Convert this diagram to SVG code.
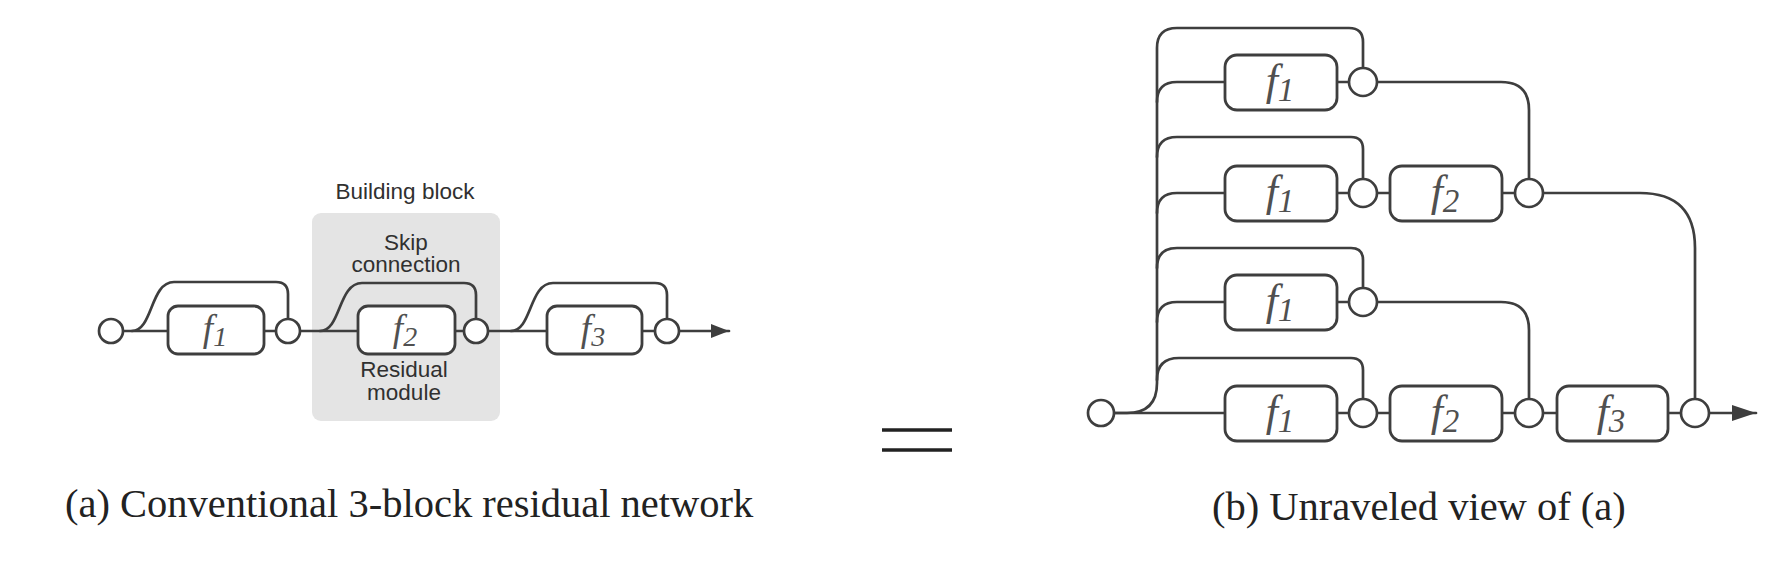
<svg xmlns="http://www.w3.org/2000/svg" width="1786" height="572" viewBox="0 0 1786 572">
<style>
.bg{fill:#ffffff}
.ln{fill:none;stroke:#3e3e3e;stroke-width:2.7;stroke-linecap:round;stroke-linejoin:round}
.box{fill:#ffffff;stroke:#3e3e3e;stroke-width:2.8}
.nd{fill:#ffffff;stroke:#3e3e3e;stroke-width:2.7}
.fa{font-family:"Liberation Serif","Times New Roman",serif;font-style:italic;fill:#505050;font-size:37px}
.fb{font-family:"Liberation Serif","Times New Roman",serif;font-style:italic;fill:#505050;font-size:44px}
.lab{font-family:"Liberation Sans",Arial,sans-serif;font-size:22.5px;fill:#303030;text-anchor:middle}
.cap{font-family:"Liberation Serif","Times New Roman",serif;font-size:40.5px;fill:#222222}
.blk{fill:#e4e4e4}
.eq{stroke:#222222;stroke-width:3.5}
</style>
<defs>
<marker id="arrA" viewBox="0 0 18 14" refX="18" refY="7" markerWidth="18" markerHeight="14" markerUnits="userSpaceOnUse" orient="auto"><path d="M0 0 L18 7 L0 14 z" fill="#3e3e3e"/></marker>
<marker id="arrB" viewBox="0 0 24 16" refX="24" refY="8" markerWidth="24" markerHeight="16" markerUnits="userSpaceOnUse" orient="auto"><path d="M0 0 L24 8 L0 16 z" fill="#3e3e3e"/></marker>
</defs>
<rect class="bg" x="0" y="0" width="1786" height="572"/>

<!-- Panel (a) -->
<g id="building-block">
<rect class="blk" x="312" y="213" width="188" height="208" rx="9"/>
<text class="lab" x="405" y="199">Building block</text>
<text class="lab" x="406" y="250">Skip</text>
<text class="lab" x="406" y="272">connection</text>
<text class="lab" x="404" y="377">Residual</text>
<text class="lab" x="404" y="400">module</text>
</g>

<g id="connectors-a">
<path class="ln" d="M123 331 L729 331" marker-end="url(#arrA)"/>
<path class="ln" d="M132 331 C153 331 150 282 174 282 L276 282 Q288 282 288 294 L288 319"/>
<path class="ln" d="M320 331 C341 331 338 283 362 283 L464 283 Q476 283 476 295 L476 319"/>
<path class="ln" d="M511 331 C532 331 529 283 553 283 L655 283 Q667 283 667 295 L667 320"/>
</g>

<g id="a-in"><circle class="nd" cx="111" cy="331" r="12"/></g>
<g id="a-f1"><rect class="box" x="168" y="306" width="96" height="48" rx="10"/><text class="fa" x="215" y="341" text-anchor="middle">f<tspan font-size="28" dy="5">1</tspan></text></g>
<g id="a-add1"><circle class="nd" cx="288" cy="331" r="12"/></g>
<g id="a-f2"><rect class="box" x="358" y="306" width="97" height="48" rx="10"/><text class="fa" x="405" y="341" text-anchor="middle">f<tspan font-size="28" dy="5">2</tspan></text></g>
<g id="a-add2"><circle class="nd" cx="476" cy="331" r="12"/></g>
<g id="a-f3"><rect class="box" x="547" y="306" width="95" height="48" rx="10"/><text class="fa" x="593" y="341" text-anchor="middle">f<tspan font-size="28" dy="5">3</tspan></text></g>
<g id="a-add3"><circle class="nd" cx="667" cy="331" r="12"/></g>

<!-- equals -->
<g id="equals">
<line class="eq" x1="882" y1="430" x2="952" y2="430"/>
<line class="eq" x1="882" y1="450" x2="952" y2="450"/>
</g>

<!-- Panel (b) -->
<g id="connectors-b">
<path class="ln" d="M1114 413 L1127 413 Q1157 413 1157 383 L1157 48 Q1157 28 1177 28 L1349 28 Q1363 28 1363 42 L1363 68"/>
<path class="ln" d="M1157 102 Q1157 82 1177 82 L1349 82"/>
<path class="ln" d="M1377 82 L1501 82 Q1529 82 1529 110 L1529 179"/>
<path class="ln" d="M1157 157 Q1157 137 1177 137 L1351 137 Q1363 137 1363 149 L1363 179"/>
<path class="ln" d="M1157 213 Q1157 193 1177 193 L1515 193"/>
<path class="ln" d="M1543 193 L1640 193 Q1695 193 1695 248 L1695 399"/>
<path class="ln" d="M1157 268 Q1157 248 1177 248 L1351 248 Q1363 248 1363 260 L1363 288"/>
<path class="ln" d="M1157 322 Q1157 302 1177 302 L1349 302"/>
<path class="ln" d="M1377 302 L1501 302 Q1529 302 1529 330 L1529 399"/>
<path class="ln" d="M1157 380 Q1157 358 1179 358 L1351 358 Q1363 358 1363 370 L1363 399"/>
<path class="ln" d="M1114 413 L1756 413" marker-end="url(#arrB)"/>
</g>

<g id="b-in"><circle class="nd" cx="1101" cy="413" r="13"/></g>

<g id="b-r1-f1"><rect class="box" x="1225" y="55" width="112" height="55" rx="12"/><text class="fb" x="1280" y="95" text-anchor="middle">f<tspan font-size="33" dy="6">1</tspan></text></g>
<g id="b-r1-add1"><circle class="nd" cx="1363" cy="82" r="14"/></g>

<g id="b-r2-f1"><rect class="box" x="1225" y="166" width="112" height="55" rx="12"/><text class="fb" x="1280" y="206" text-anchor="middle">f<tspan font-size="33" dy="6">1</tspan></text></g>
<g id="b-r2-add1"><circle class="nd" cx="1363" cy="193" r="14"/></g>
<g id="b-r2-f2"><rect class="box" x="1390" y="166" width="112" height="55" rx="12"/><text class="fb" x="1445" y="206" text-anchor="middle">f<tspan font-size="33" dy="6">2</tspan></text></g>
<g id="b-r2-add2"><circle class="nd" cx="1529" cy="193" r="14"/></g>

<g id="b-r3-f1"><rect class="box" x="1225" y="275" width="112" height="55" rx="12"/><text class="fb" x="1280" y="315" text-anchor="middle">f<tspan font-size="33" dy="6">1</tspan></text></g>
<g id="b-r3-add1"><circle class="nd" cx="1363" cy="302" r="14"/></g>

<g id="b-r4-f1"><rect class="box" x="1225" y="386" width="112" height="55" rx="12"/><text class="fb" x="1280" y="426" text-anchor="middle">f<tspan font-size="33" dy="6">1</tspan></text></g>
<g id="b-r4-add1"><circle class="nd" cx="1363" cy="413" r="14"/></g>
<g id="b-r4-f2"><rect class="box" x="1390" y="386" width="112" height="55" rx="12"/><text class="fb" x="1445" y="426" text-anchor="middle">f<tspan font-size="33" dy="6">2</tspan></text></g>
<g id="b-r4-add2"><circle class="nd" cx="1529" cy="413" r="14"/></g>
<g id="b-r4-f3"><rect class="box" x="1557" y="386" width="111" height="55" rx="12"/><text class="fb" x="1611" y="426" text-anchor="middle">f<tspan font-size="33" dy="6">3</tspan></text></g>
<g id="b-r4-add3"><circle class="nd" cx="1695" cy="413" r="14"/></g>

<g id="captions">
<text class="cap" x="65" y="517">(a) Conventional 3-block residual network</text>
<text class="cap" x="1212" y="520">(b) Unraveled view of (a)</text>
</g>
</svg>
